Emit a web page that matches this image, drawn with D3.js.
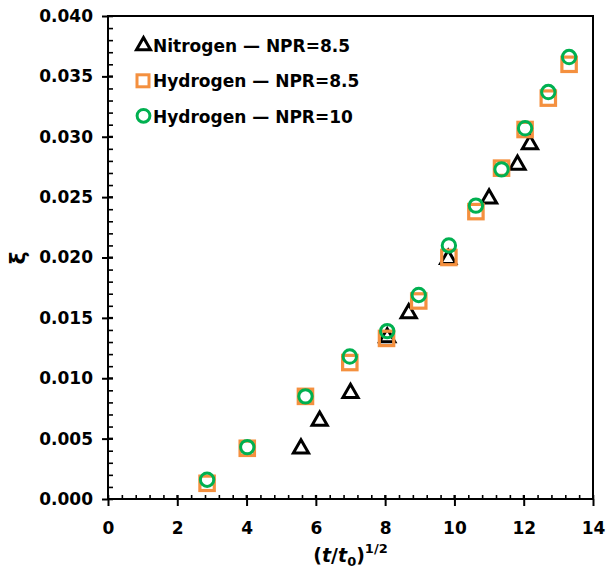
<!DOCTYPE html>
<html>
<head>
<meta charset="utf-8">
<script src="https://cdn.jsdelivr.net/npm/d3@7"></script>
<style>
  body { margin: 0; background: #fff; }
  svg text { font-family: "DejaVu Sans", sans-serif; font-weight: bold; fill: #000; }
</style>
</head>
<body>
<div id="chart"></div>
<script>
// values
var seriesNames = ['Nitrogen \u2014 NPR=8.5', 'Hydrogen \u2014 NPR=8.5', 'Hydrogen \u2014 NPR=10'];
var n2X = [5.57, 6.11, 7.00, 8.06, 8.68, 9.82, 11.00, 11.82, 12.18];
var n2Y = [0.0043, 0.0066, 0.0089, 0.0135, 0.0155, 0.0200, 0.0250, 0.0278, 0.0295];
var h85X = [2.86, 4.02, 5.70, 6.98, 8.04, 8.97, 9.84, 10.62, 11.36, 12.04, 12.71, 13.31];
var h85Y = [0.0013, 0.0042, 0.0085, 0.0113, 0.0133, 0.0164, 0.0200, 0.0238, 0.0274, 0.0306, 0.0332, 0.0360];
var h10X = [2.86, 4.02, 5.70, 6.98, 8.06, 8.97, 9.84, 10.62, 11.36, 12.04, 12.71, 13.31];
var h10Y = [0.0016, 0.0043, 0.0085, 0.0118, 0.0139, 0.0169, 0.0210, 0.0243, 0.0273, 0.0307, 0.0337, 0.0366];
var xTicks = [0, 2, 4, 6, 8, 10, 12, 14];
var yTicks = [0, 0.005, 0.010, 0.015, 0.020, 0.025, 0.030, 0.035, 0.040];

var W = 607, H = 574;
var margin = {top: 16, right: 14, bottom: 75, left: 108};
var width = W - margin.left - margin.right;
var height = H - margin.top - margin.bottom;

var x = d3.scaleLinear().domain([0, 14]).range([0, width]);
var y = d3.scaleLinear().domain([0, 0.04]).range([height, 0]);

var svg = d3.select('#chart').append('svg').attr('width', W).attr('height', H);
var g = svg.append('g').attr('transform', 'translate(' + margin.left + ',' + margin.top + ')');

// inner minor ticks
g.append('g').call(d3.axisRight(y).tickValues(d3.range(0, 41).map(function(i) { return i / 1000; })).tickSize(5).tickFormat(''))
  .call(function(s) { s.select('.domain').remove(); s.selectAll('line').attr('stroke-width', 1.6); });
g.append('g').attr('transform', 'translate(0,' + height + ')')
  .call(d3.axisTop(x).tickValues(d3.range(0, 36).map(function(i) { return i * 0.4; })).tickSize(4).tickFormat(''))
  .call(function(s) { s.select('.domain').remove(); s.selectAll('line').attr('stroke-width', 1.6); });

// outer major ticks + labels
g.append('g').call(d3.axisLeft(y).tickValues(yTicks).tickSize(6).tickPadding(9).tickFormat(d3.format('.3f')))
  .call(function(s) {
    s.select('.domain').remove();
    s.selectAll('line').attr('stroke-width', 2);
    s.selectAll('text').attr('font-size', 17).attr('font-family', '"DejaVu Sans", sans-serif').attr('font-weight', 'bold');
  });
g.append('g').attr('transform', 'translate(0,' + height + ')')
  .call(d3.axisBottom(x).tickValues(xTicks).tickSize(7).tickPadding(16))
  .call(function(s) {
    s.select('.domain').remove();
    s.selectAll('line').attr('stroke-width', 2);
    s.selectAll('text').attr('font-size', 17).attr('font-family', '"DejaVu Sans", sans-serif').attr('font-weight', 'bold');
  });
// major ticks cross inside a bit
g.append('g').selectAll('line').data(yTicks).enter().append('line')
  .attr('x1', 0).attr('x2', 5).attr('y1', function(d) { return y(d); }).attr('y2', function(d) { return y(d); })
  .attr('stroke', '#000').attr('stroke-width', 2);
g.append('g').selectAll('line').data(xTicks).enter().append('line')
  .attr('y1', height).attr('y2', height - 4).attr('x1', function(d) { return x(d); }).attr('x2', function(d) { return x(d); })
  .attr('stroke', '#000').attr('stroke-width', 2);

// frame
g.append('rect').attr('width', width).attr('height', height).attr('fill', 'none').attr('stroke', '#000').attr('stroke-width', 2);

var tri = d3.symbol().type(d3.symbolTriangle).size(100);
var marks = g.append('g');

marks.selectAll('path.n2').data(d3.zip(n2X, n2Y)).enter().append('path').attr('class', 'n2')
  .attr('d', tri).attr('transform', function(d) { return 'translate(' + x(d[0]) + ',' + (y(d[1]) + 1.5) + ')'; })
  .attr('fill', 'none').attr('stroke', '#000').attr('stroke-width', 3);

marks.selectAll('rect.h85').data(d3.zip(h85X, h85Y)).enter().append('rect').attr('class', 'h85')
  .attr('x', function(d) { return x(d[0]) - 7.2; }).attr('y', function(d) { return y(d[1]) - 7.2; })
  .attr('width', 14.4).attr('height', 14.4)
  .attr('fill', 'none').attr('stroke', '#F4903F').attr('stroke-width', 3.2);

marks.selectAll('circle.h10').data(d3.zip(h10X, h10Y)).enter().append('circle').attr('class', 'h10')
  .attr('cx', function(d) { return x(d[0]); }).attr('cy', function(d) { return y(d[1]); }).attr('r', 6.7)
  .attr('fill', 'none').attr('stroke', '#00B050').attr('stroke-width', 3);

// legend
var legend = svg.append('g');
var rows = [51.7, 87.3, 123.3];
legend.append('path').attr('d', d3.symbol().type(d3.symbolTriangle).size(85))
  .attr('transform', 'translate(143.5,' + (rows[0] - 6) + ')').attr('fill', 'none').attr('stroke', '#000').attr('stroke-width', 3);
legend.append('rect').attr('x', 137).attr('y', rows[1] - 12.5).attr('width', 12).attr('height', 12)
  .attr('fill', 'none').attr('stroke', '#F4903F').attr('stroke-width', 3);
legend.append('circle').attr('cx', 143.5).attr('cy', rows[2] - 7.5).attr('r', 6.4)
  .attr('fill', 'none').attr('stroke', '#00B050').attr('stroke-width', 3);
legend.selectAll('text').data(seriesNames).enter().append('text')
  .attr('x', 153).attr('y', function(d, i) { return rows[i]; })
  .attr('font-size', 17).text(function(d) { return d; });

// axis titles
svg.append('text').attr('transform', 'translate(25,258) rotate(-90)').attr('text-anchor', 'middle')
  .attr('font-size', 22).text('\u03BE');

var xt = svg.append('text').attr('x', margin.left + width / 2).attr('y', 562).attr('text-anchor', 'middle').attr('font-size', 19);
xt.append('tspan').text('(');
xt.append('tspan').attr('font-style', 'italic').text('t');
xt.append('tspan').text('/');
xt.append('tspan').attr('font-style', 'italic').text('t');
xt.append('tspan').attr('font-size', 13).attr('dy', 4).text('0');
xt.append('tspan').attr('dy', -4).text(')');
xt.append('tspan').attr('font-size', 13).attr('dy', -9).text('1/2');
</script>
</body>
</html>
